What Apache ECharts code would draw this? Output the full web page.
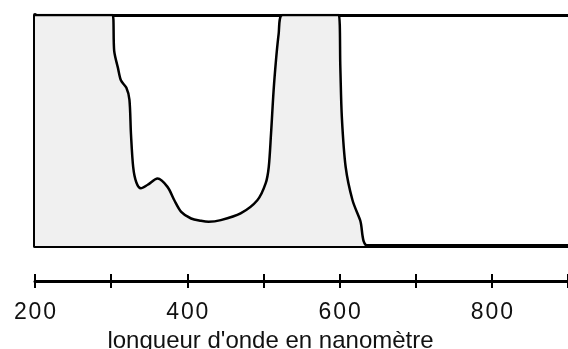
<!DOCTYPE html>
<html>
<head>
<meta charset="utf-8">
<script src="https://cdn.jsdelivr.net/npm/echarts@6/dist/echarts.min.js"></script>
<style>
html,body{margin:0;padding:0;background:#fff;}
#chart{width:568px;height:349px;}
</style>
</head>
<body>
<div id="chart"></div>
<script>
// wavelength (nm)
var wavelengths = [200, 302, 304, 309, 313, 320, 324, 326, 329, 333, 339, 348, 361, 374, 383, 392, 405, 418, 428, 444, 470, 492, 503, 507, 510, 514, 520, 525, 599, 601, 603, 608, 617, 627, 638, 900];
// transmission (%)
var transmission = [100, 100, 84.5, 77, 71.6, 68.5, 63.4, 48.7, 34, 27.6, 25, 26.5, 29.2, 25.6, 19.8, 14.8, 11.9, 10.9, 10.5, 11.2, 14.1, 19.8, 27.2, 34.2, 48.7, 70.3, 91.8, 100, 100, 77.3, 55.7, 34.2, 19.8, 11.2, 0, 0];
var tickLabels = ['200', '400', '600', '800'];
var axisTitle = "longueur d'onde en nanomètre";

var pts = wavelengths.map(function (w, i) { return [w, transmission[i]]; });
var font = '"Liberation Sans", Arial, sans-serif';

var chart = echarts.init(document.getElementById('chart'), null, {renderer: 'canvas'});
chart.setOption({
  animation: false,
  backgroundColor: '#fff',
  grid: {left: 35, right: 0, top: 15, bottom: 103, containLabel: false, outerBoundsMode: 'none'},
  xAxis: [
    {type: 'value', min: 200, max: 900, interval: 100,
     axisLine: {show: true, lineStyle: {color: '#000', width: 4}},
     axisTick: {show: false}, axisLabel: {show: false}, splitLine: {show: false}},
    {type: 'value', min: 200, max: 900, interval: 100, position: 'bottom', offset: 35,
     axisLine: {show: true, lineStyle: {color: '#000', width: 3}},
     axisTick: {show: true, inside: false, length: 7, lineStyle: {color: '#000', width: 2}},
     axisLabel: {show: true, margin: 20, color: '#111', fontSize: 23, fontFamily: font,
       formatter: function (v) {
         var s = String(v);
         return tickLabels.indexOf(s) >= 0 ? s.split('').join('\u200A') : '';
       }},
     splitLine: {show: false},
     name: axisTitle, nameLocation: 'middle', nameGap: 46,
     nameTextStyle: {color: '#111', fontSize: 24, fontFamily: font, padding: [0, 62, 0, 0]}},
    {type: 'value', min: 200, max: 900, interval: 100, position: 'bottom', offset: 35,
     axisLine: {show: false},
     axisTick: {show: true, inside: true, length: 7, lineStyle: {color: '#000', width: 2}},
     axisLabel: {show: false}, splitLine: {show: false}}
  ],
  yAxis: {type: 'value', min: 0, max: 100, interval: 100,
    axisLine: {show: true, lineStyle: {color: '#000', width: 4}},
    axisTick: {show: false}, axisLabel: {show: false},
    splitLine: {show: true, lineStyle: {color: '#000', width: 3, type: 'solid'}}},
  series: [{
    type: 'line', xAxisIndex: 0, data: pts, symbol: 'none', smooth: 0.3,
    lineStyle: {color: '#000', width: 2.5},
    areaStyle: {color: '#f0f0f0', opacity: 1, origin: 'start'},
    z: 1
  }]
});
</script>
</body>
</html>
